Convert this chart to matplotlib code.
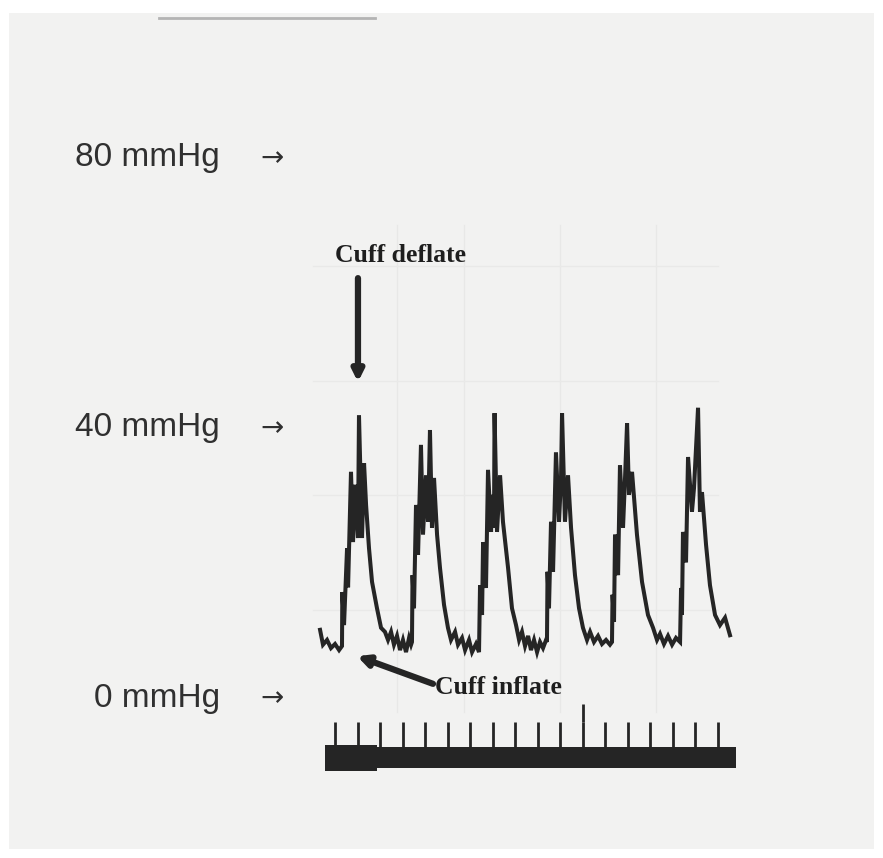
import matplotlib
matplotlib.use("Agg")
import matplotlib.pyplot as plt
from matplotlib.patches import Rectangle

# cuff pressure trace, read as (seconds, mmHg)
time_s = [
  0.067, 0.093, 0.129, 0.164, 0.200, 0.236, 0.262,
  # beat 1
  0.265, 0.280, 0.307, 0.316, 0.342, 0.360, 0.378, 0.404, 0.413, 0.440,
  0.458, 0.476, 0.502, 0.529, 0.573, 0.609, 0.644,
  0.671, 0.698, 0.724, 0.751, 0.778, 0.804, 0.831, 0.858, 0.876, 0.884,
  # beat 2
  0.889, 0.902, 0.920, 0.938, 0.964, 0.982, 1.009, 1.027, 1.044, 1.062,
  1.080, 1.107, 1.133, 1.169, 1.204,
  1.231, 1.267, 1.293, 1.329, 1.356, 1.391, 1.418, 1.453, 1.480,
  # beat 3
  1.489, 1.507, 1.516, 1.542, 1.560, 1.587, 1.596, 1.613, 1.618, 1.640,
  1.667, 1.693, 1.738, 1.773, 1.809,
  1.836, 1.862, 1.889, 1.916, 1.942, 1.969, 1.996, 2.022, 2.049, 2.076, 2.084,
  # beat 4
  2.089, 2.102, 2.120, 2.138, 2.164, 2.191, 2.209, 2.218, 2.244, 2.271,
  2.298, 2.333, 2.369, 2.404,
  2.440, 2.467, 2.502, 2.538, 2.573, 2.609, 2.644, 2.662,
  # beat 5
  2.667, 2.680, 2.689, 2.716, 2.733, 2.760, 2.778, 2.796, 2.813, 2.840,
  2.884, 2.929, 2.982, 3.027,
  3.062, 3.089, 3.124, 3.160, 3.196, 3.231, 3.267,
  # beat 6
  3.276, 3.284, 3.293, 3.320, 3.338, 3.373, 3.391, 3.427, 3.444, 3.462,
  3.498, 3.533, 3.578, 3.622, 3.667, 3.711,
]
pressure_mmHg = [
  10.1, 7.9, 8.6, 7.4, 8.0, 7.1, 7.7,
  15.7, 10.8, 22.2, 16.4, 33.5, 23.1, 31.6, 23.7, 41.9, 23.7,
  34.8, 28.6, 22.2, 17.2, 13.3, 10.4, 9.8,
  8.6, 9.8, 7.9, 9.2, 7.1, 8.6, 6.8, 8.9, 7.9, 8.3,
  18.2, 13.3, 28.6, 21.2, 37.5, 24.2, 33.0, 26.1, 39.7, 25.2,
  32.6, 24.2, 19.3, 13.8, 10.4,
  8.6, 9.8, 7.9, 8.9, 7.1, 8.6, 6.8, 8.0, 6.8,
  16.7, 12.3, 23.1, 16.3, 33.8, 24.6, 30.1, 25.2, 42.2, 24.6,
  33.0, 26.1, 19.3, 13.3, 10.8,
  8.6, 9.8, 7.7, 9.2, 7.1, 8.6, 6.8, 8.3, 7.4, 8.6, 8.3,
  18.7, 13.3, 26.1, 18.7, 36.4, 26.1, 32.6, 42.2, 26.1, 33.0,
  25.2, 18.2, 13.3, 10.4,
  8.6, 9.8, 8.3, 9.2, 8.0, 8.6, 7.9, 8.3,
  15.3, 11.3, 24.2, 18.2, 34.5, 25.2, 32.6, 40.7, 30.1, 33.5,
  24.2, 17.2, 12.3, 10.4,
  8.6, 9.5, 8.0, 9.2, 7.9, 8.9, 8.3,
  16.3, 12.3, 24.6, 20.1, 35.7, 27.6, 31.1, 43.0, 27.6, 30.5,
  22.7, 16.7, 12.3, 10.8, 11.9, 9.3,
]

# time-marker channel (one mark every 0.2 s)
marker_times = [0.2, 0.4, 0.6, 0.8, 1.0, 1.2, 1.4, 1.6, 1.8,
                2.0, 2.2, 2.4, 2.6, 2.8, 3.0, 3.2, 3.4, 3.6]
marker_start, marker_end = 0.11, 3.76

scale_levels = [80, 40, 0]
scale_labels = ["80 mmHg", "40 mmHg", "0 mmHg"]

deflate_at = (0.404, 46.8)   # where the cuff lets go
inflate_at = (0.396, 6.2)    # first rise of the cuff

ink = "#252525"
paper = "#f2f2f1"

fig = plt.figure(figsize=(8.83, 8.58), dpi=100, facecolor="white")
ax = fig.add_axes([0, 0, 1, 1])
ax.set_xlim(-2.778, 5.071)
ax.set_ylim(-23.7, 103.4)
ax.axis("off")

# scanned sheet behind everything
ax.add_patch(Rectangle((0.01, 0.01), 0.98, 0.975, transform=ax.transAxes,
                       facecolor=paper, edgecolor="none", zorder=0))
ax.plot([0.18, 0.425], [0.979, 0.979], transform=ax.transAxes,
        color="#b4b4b4", lw=2, zorder=1)

# faint graph-paper grid under the trace
for gx in [0.75, 1.35, 2.2, 3.05]:
  ax.plot([gx, gx], [-2, 70], color="#e8e8e7", lw=1, zorder=1)
for gy in [13, 30, 47, 64]:
  ax.plot([0.0, 3.6], [gy, gy], color="#e9e9e8", lw=1, zorder=1)

ax.plot(time_s, pressure_mmHg, color=ink, lw=2.9,
        solid_joinstyle="miter", zorder=3)

# marker channel: thick bar plus a tick per mark
ax.fill_between([marker_start, marker_end], -10.4, -7.3,
                color=ink, lw=0, zorder=3)
ax.fill_between([marker_start, 0.57], -10.8, -6.9,
                color=ink, lw=0, zorder=3)
ax.vlines(marker_times, -7.3, -3.6, color=ink, lw=2, zorder=3)
ax.vlines([2.4], -3.6, -0.9, color=ink, lw=2, zorder=3)

# pressure scale on the left
for level, label in zip(scale_levels, scale_labels):
  ax.text(-0.822, level, label, ha="right", va="center",
          family=["Liberation Sans", "DejaVu Sans"], fontsize=24,
          color="#303030", zorder=4)
  ax.text(-0.36, level, "\u2192", ha="center", va="center",
          family="DejaVu Sans", fontsize=20, color="#303030", zorder=4)

ax.text(0.778, 65.6, "Cuff deflate", ha="center", va="center",
        family=["Liberation Serif", "DejaVu Serif"], fontweight="bold",
        fontsize=18.5, color="#1e1e1e", zorder=4)
ax.annotate("", xy=deflate_at, xytext=(deflate_at[0], 62.2),
            arrowprops=dict(arrowstyle="-|>", color=ink, lw=4.5,
                            mutation_scale=16, shrinkA=0, shrinkB=0),
            zorder=4)

ax.text(1.653, 1.5, "Cuff inflate", ha="center", va="center",
        family=["Liberation Serif", "DejaVu Serif"], fontweight="bold",
        fontsize=18.5, color="#1e1e1e", zorder=4)
ax.annotate("", xy=inflate_at, xytext=(1.071, 2.1),
            arrowprops=dict(arrowstyle="-|>", color=ink, lw=4.5,
                            mutation_scale=16, shrinkA=0, shrinkB=0),
            zorder=4)

fig.savefig("out.png", dpi=100, facecolor=fig.get_facecolor())
